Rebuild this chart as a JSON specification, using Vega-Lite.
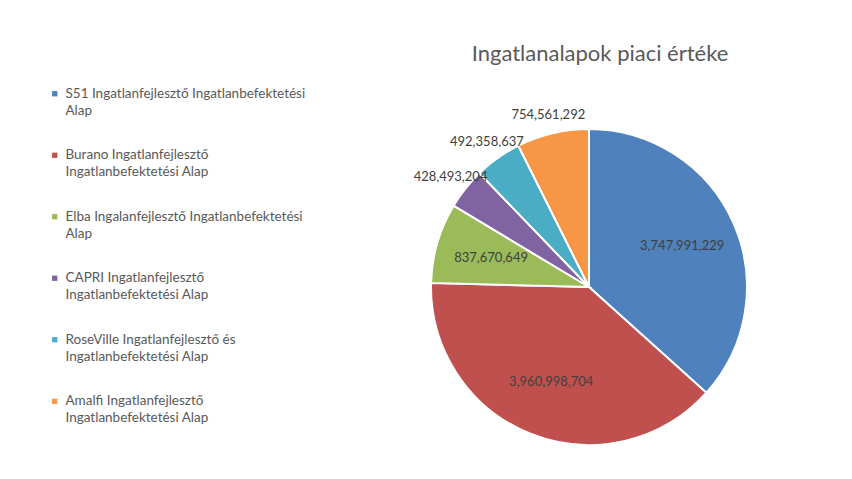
{
  "$schema": "https://vega.github.io/schema/vega-lite/v6.json",
  "width": 356,
  "height": 356,
  "autosize": {"type": "none"},
  "padding": {"left": 411, "top": 109, "right": 85, "bottom": 14},
  "background": "white",
  "title": {
    "text": "Ingatlanalapok piaci értéke",
    "font": "Lato",
    "fontSize": 22,
    "fontWeight": "normal",
    "color": "#595959",
    "offset": 21,
    "dx": 11
  },
  "data": {
    "values": [
      {"alap": "S51 Ingatlanfejlesztő Ingatlanbefektetési Alap", "ertek": 3747991229, "sorrend": 1},
      {"alap": "Burano Ingatlanfejlesztő Ingatlanbefektetési Alap", "ertek": 3960998704, "sorrend": 2},
      {"alap": "Elba Ingalanfejlesztő Ingatlanbefektetési Alap", "ertek": 837670649, "sorrend": 3},
      {"alap": "CAPRI Ingatlanfejlesztő Ingatlanbefektetési Alap", "ertek": 428493204, "sorrend": 4},
      {"alap": "RoseVille Ingatlanfejlesztő és Ingatlanbefektetési Alap", "ertek": 492358637, "sorrend": 5},
      {"alap": "Amalfi Ingatlanfejlesztő Ingatlanbefektetési Alap", "ertek": 754561292, "sorrend": 6}
    ]
  },
  "encoding": {
    "theta": {"field": "ertek", "type": "quantitative", "stack": true},
    "order": {"field": "sorrend", "type": "quantitative"}
  },
  "layer": [
    {
      "mark": {"type": "arc", "outerRadius": 158, "stroke": "white", "strokeWidth": 2},
      "encoding": {
        "color": {
          "field": "alap",
          "type": "nominal",
          "sort": {"field": "sorrend"},
          "scale": {
            "domain": [
              "S51 Ingatlanfejlesztő Ingatlanbefektetési Alap",
              "Burano Ingatlanfejlesztő Ingatlanbefektetési Alap",
              "Elba Ingalanfejlesztő Ingatlanbefektetési Alap",
              "CAPRI Ingatlanfejlesztő Ingatlanbefektetési Alap",
              "RoseVille Ingatlanfejlesztő és Ingatlanbefektetési Alap",
              "Amalfi Ingatlanfejlesztő Ingatlanbefektetési Alap"
            ],
            "range": ["#4F81BD", "#C0504D", "#9BBB59", "#8064A2", "#4BACC6", "#F79646"]
          },
          "legend": {
            "title": null,
            "orient": "none",
            "legendX": -363,
            "legendY": -22,
            "padding": 0,
            "symbolType": "square",
            "symbolSize": 28,
            "symbolStrokeWidth": 0,
            "labelFont": "Lato",
            "labelFontSize": 13.5,
            "labelColor": "#595959",
            "labelLimit": 400,
            "labelOffset": 4,
            "rowPadding": 29.5,
            "labelBaseline": "middle",
            "labelExpr": "indexof(datum.label, ' Ingatlanbefektetési') <= 22 ? [replace(datum.label, ' Alap', ''), 'Alap'] : [substring(datum.label, 0, indexof(datum.label, ' Ingatlanbefektetési')), 'Ingatlanbefektetési Alap']"
          }
        }
      }
    },
    {
      "mark": {"type": "text", "radius": 102, "font": "Lato", "fontSize": 13, "color": "#404040"},
      "encoding": {
        "text": {
          "condition": {"test": "datum.ertek > 800000000", "field": "ertek", "type": "quantitative", "format": ","},
          "value": ""
        }
      }
    },
    {
      "mark": {"type": "text", "radius": 177, "font": "Lato", "fontSize": 13, "color": "#404040"},
      "encoding": {
        "text": {
          "condition": {"test": "datum.ertek <= 800000000", "field": "ertek", "type": "quantitative", "format": ","},
          "value": ""
        }
      }
    }
  ],
  "config": {
    "view": {"stroke": null},
    "style": {"guide-label": {"lineHeight": 17}}
  }
}
